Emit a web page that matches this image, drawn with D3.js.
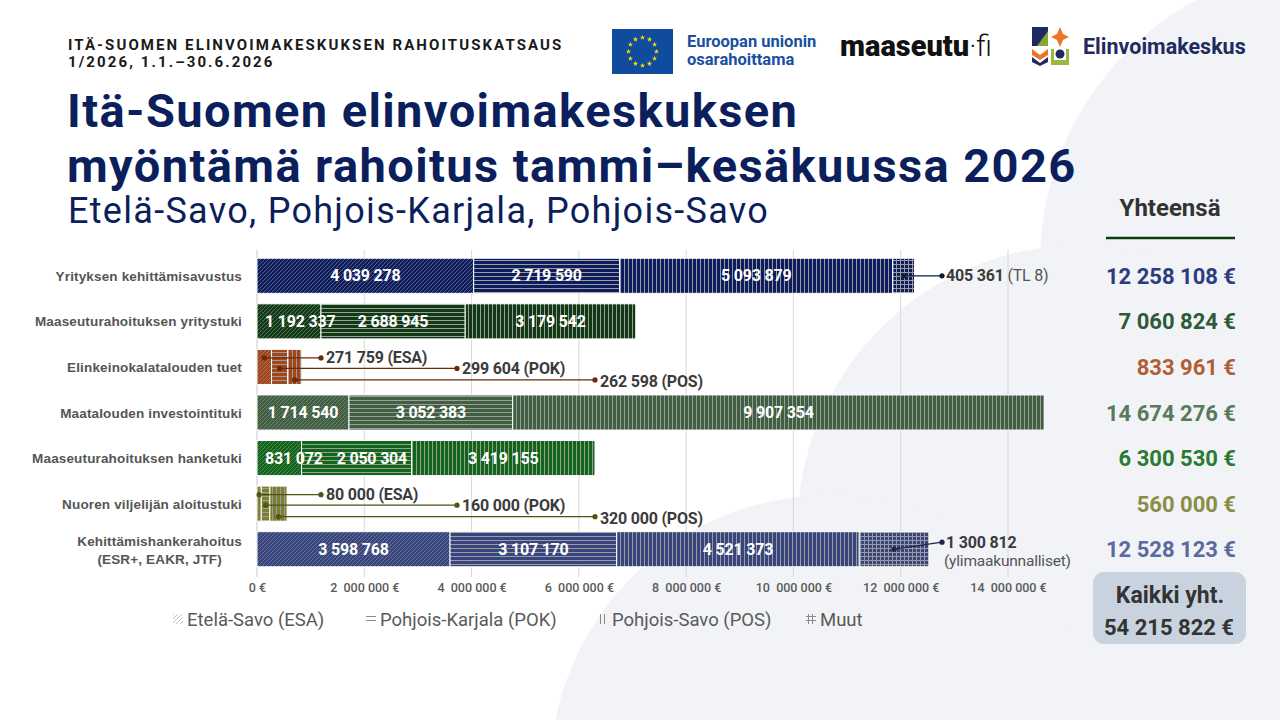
<!DOCTYPE html>
<html>
<head>
<meta charset="utf-8">
<script src="https://cdn.jsdelivr.net/npm/d3@7"></script>
<style>
  html, body { margin: 0; padding: 0; background: #fff; }
  svg { display: block; font-family: Roboto, 'Noto Sans', sans-serif; }
</style>
</head>
<body>
<svg id="chart" width="1280" height="720"></svg>
<script>
// data
const categories = [
  'Yrityksen kehittämisavustus',
  'Maaseuturahoituksen yritystuki',
  'Elinkeinokalatalouden tuet',
  'Maatalouden investointituki',
  'Maaseuturahoituksen hanketuki',
  'Nuoren viljelijän aloitustuki',
  'Kehittämishankerahoitus (ESR+, EAKR, JTF)'
];
const esaValues = [4039278, 1192337, 271759, 1714540, 831072, 80000, 3598768];
const pokValues = [2719590, 2688945, 299604, 3052383, 2050304, 160000, 3107170];
const posValues = [5093879, 3179542, 262598, 9907354, 3419155, 320000, 4521373];
const muutValues = [405361, 0, 0, 0, 0, 0, 1300812];
const muutNotes = ['(TL 8)', '', '', '', '', '', '(ylimaakunnalliset)'];
const totals = [12258108, 7060824, 833961, 14674276, 6300530, 560000, 12528123];
const grandTotal = 54215822;
const tickValues = [0, 2000000, 4000000, 6000000, 8000000, 10000000, 12000000, 14000000];
const seriesKeys = ['esa', 'pok', 'pos', 'muut'];
const seriesNames = ['Etelä-Savo (ESA)', 'Pohjois-Karjala (POK)', 'Pohjois-Savo (POS)', 'Muut'];
const seriesShort = ['ESA', 'POK', 'POS', 'Muut'];

// styles
const barColors = ['#0d1c5e', '#103a14', '#a4461a', '#3f5f41', '#0f6616', '#7c7f2f', '#36457f'];
const leaderColors = ['#0d1c3e', '#103a14', '#6e2a08', '#3f5f41', '#0f6616', '#4e5412', '#1d2548'];
const totalColors = ['#2c3c7c', '#2d5a37', '#b25d36', '#577a5d', '#2a7a31', '#8a8c47', '#5a6a9e'];
const navy = '#0b1f5c';

const fmt = d3.formatLocale({ decimal: ',', thousands: ' ', grouping: [3], currency: ['', ' €'] }).format(',d');

const svg = d3.select('#chart');
const defs = svg.append('defs');

// soft background blobs
const bg = svg.append('g').attr('fill', '#f1f3f7');
bg.append('circle').attr('cx', 1338).attr('cy', 262).attr('r', 298);
bg.append('circle').attr('cx', 1082).attr('cy', 530).attr('r', 285);
bg.append('circle').attr('cx', 830).attr('cy', 775).attr('r', 280);
bg.append('rect').attr('x', 1082).attr('y', 262).attr('width', 200).attr('height', 460);

// header
svg.append('text').attr('x', 68).attr('y', 50)
  .attr('font-size', 15).attr('font-weight', 700).attr('letter-spacing', 2.1).attr('fill', '#1a1a1a')
  .text('ITÄ-SUOMEN ELINVOIMAKESKUKSEN RAHOITUSKATSAUS');
svg.append('text').attr('x', 68).attr('y', 67)
  .attr('font-size', 15).attr('font-weight', 700).attr('letter-spacing', 2.1).attr('fill', '#1a1a1a')
  .text('1/2026, 1.1.–30.6.2026');

svg.append('text').attr('x', 67).attr('y', 127)
  .attr('font-size', 47).attr('font-weight', 700).attr('letter-spacing', 1.4).attr('fill', navy)
  .text('Itä-Suomen elinvoimakeskuksen');
svg.append('text').attr('x', 67).attr('y', 182)
  .attr('font-size', 47).attr('font-weight', 700).attr('letter-spacing', 1.4).attr('fill', navy)
  .text('myöntämä rahoitus tammi–kesäkuussa 2026');
svg.append('text').attr('x', 68).attr('y', 223)
  .attr('font-size', 36).attr('letter-spacing', 1.3).attr('fill', navy)
  .text('Etelä-Savo, Pohjois-Karjala, Pohjois-Savo');

// logos
const eu = svg.append('g');
eu.append('rect').attr('x', 612).attr('y', 29).attr('width', 61).attr('height', 45).attr('fill', '#0f4c9e');
d3.range(12).forEach(i => {
  const a = i * Math.PI / 6;
  eu.append('path')
    .attr('d', d3.symbol(d3.symbolStar, 9)())
    .attr('transform', `translate(${642.5 + 14 * Math.cos(a)},${51.5 + 14 * Math.sin(a)})`)
    .attr('fill', '#ffdd00');
});
eu.append('text').attr('x', 687).attr('y', 47).attr('font-size', 16.5).attr('font-weight', 700).attr('fill', '#1a4fa0').text('Euroopan unionin');
eu.append('text').attr('x', 687).attr('y', 65).attr('font-size', 16.5).attr('font-weight', 700).attr('fill', '#1a4fa0').text('osarahoittama');

const ms = svg.append('text').attr('x', 840).attr('y', 56).attr('font-size', 29).attr('fill', '#111');
ms.append('tspan').attr('font-weight', 900).text('maaseutu');
ms.append('tspan').attr('font-weight', 300).text('·fi');

const ev = svg.append('g');
ev.append('rect').attr('x', 1032).attr('y', 27).attr('width', 16).attr('height', 19).attr('fill', '#1d2a63');
ev.append('path').attr('d', 'M1037,46 L1048,31 L1048,46 Z').attr('fill', '#8aa632');
ev.append('path').attr('d', 'M1060,27 L1063,34 L1069,37 L1063,40 L1060,47 L1057,40 L1051,37 L1057,34 Z').attr('fill', '#f07427');
ev.append('path').attr('d', 'M1032,49 L1040,55 L1048,49 L1048,55 L1040,60 L1032,55 Z').attr('fill', '#f07427');
ev.append('path').attr('d', 'M1032,57 L1040,63 L1048,57 L1048,62 L1040,66 L1032,62 Z').attr('fill', '#1d2a63');
ev.append('rect').attr('x', 1051).attr('y', 49).attr('width', 18).attr('height', 16).attr('fill', '#9cb83d');
ev.append('rect').attr('x', 1054).attr('y', 49).attr('width', 12).attr('height', 11).attr('fill', '#fff');
ev.append('circle').attr('cx', 1060).attr('cy', 54).attr('r', 4.5).attr('fill', '#1d2a63');
ev.append('text').attr('x', 1083).attr('y', 54).attr('font-size', 21.5).attr('font-weight', 700).attr('fill', '#1f2b5e').text('Elinvoimakeskus');

// scales
const x = d3.scaleLinear().domain([0, 14000000]).range([257, 1008]);
const y = d3.scaleBand().domain(categories).range([253, 572]).paddingInner(0.23).paddingOuter(0.115);

// hatch patterns, one set per row colour
function addPatterns(id, color, line) {
  const s = 4;
  const mk = (key) => defs.append('pattern').attr('id', `${key}-${id}`)
    .attr('patternUnits', 'userSpaceOnUse').attr('width', s).attr('height', s);
  const pEsa = mk('esa');
  pEsa.append('rect').attr('width', s).attr('height', s).attr('fill', color);
  pEsa.append('path').attr('d', `M0,${s} L${s},0 M-1,1 L1,-1 M${s - 1},${s + 1} L${s + 1},${s - 1}`)
    .attr('stroke', line).attr('stroke-width', 0.7).attr('stroke-opacity', 0.75);
  const pPok = mk('pok');
  pPok.append('rect').attr('width', s).attr('height', s).attr('fill', color);
  pPok.append('line').attr('x1', 0).attr('x2', s).attr('y1', 0.5).attr('y2', 0.5).attr('stroke', line).attr('stroke-width', 1);
  const pPos = mk('pos');
  pPos.append('rect').attr('width', s).attr('height', s).attr('fill', color);
  pPos.append('line').attr('y1', 0).attr('y2', s).attr('x1', 0.5).attr('x2', 0.5).attr('stroke', line).attr('stroke-width', 1);
  const pMuut = mk('muut');
  pMuut.append('rect').attr('width', s).attr('height', s).attr('fill', color);
  pMuut.append('path').attr('d', `M0,0.5 L${s},0.5 M0.5,0 L0.5,${s}`).attr('stroke', line).attr('stroke-width', 1);
}
barColors.forEach((c, i) => addPatterns(i, c, '#9c9c9c'));
addPatterns('legend', 'none', '#8a8a8a');

// gridlines
const grid = svg.append('g');
grid.selectAll('line').data(tickValues.slice(1)).join('line')
  .attr('x1', d => x(d)).attr('x2', d => x(d))
  .attr('y1', 250).attr('y2', 577)
  .attr('stroke', '#d9d9d9').attr('stroke-width', 1);
svg.append('line').attr('x1', x(0)).attr('x2', x(0)).attr('y1', 250).attr('y2', 577)
  .attr('stroke', '#c8c8c8').attr('stroke-width', 1);

// x axis labels
const xAxis = svg.append('g').attr('transform', 'translate(0,583)')
  .call(d3.axisBottom(x).tickValues(tickValues).tickSize(0).tickFormat(d => fmt(d).replace(' ', '  ') + ' €'));
xAxis.select('.domain').remove();
xAxis.selectAll('text')
  .attr('font-family', 'Roboto, sans-serif').attr('font-size', 12.5).attr('font-weight', 500)
  .attr('fill', '#5a5a5a').style('white-space', 'pre').attr('dy', '0.5em');

// y axis labels
const yAxis = svg.append('g').attr('transform', 'translate(242,0)')
  .call(d3.axisLeft(y).tickSize(0).tickPadding(0).tickFormat(() => ''));
yAxis.select('.domain').remove();
yAxis.selectAll('.tick').each(function (d) {
  const t = d3.select(this).append('text')
    .attr('font-size', 13.5).attr('font-weight', 700).attr('fill', '#555').attr('letter-spacing', 0.15);
  const m = d.match(/^(.*) (\(.*\))$/);
  if (m) {
    const first = t.append('tspan').attr('y', -3).text(m[1]);
    const w = first.node().getComputedTextLength();
    t.attr('text-anchor', 'middle');
    first.attr('x', -w / 2);
    t.append('tspan').attr('x', -w / 2).attr('y', 15).text(m[2]);
  } else {
    t.attr('text-anchor', 'end').attr('y', 5).text(d);
  }
});

// stacked bars
const table = categories.map((c, i) => ({
  category: c, esa: esaValues[i], pok: pokValues[i], pos: posValues[i], muut: muutValues[i]
}));
const stacked = d3.stack().keys(seriesKeys)(table);

const rows = svg.append('g');
stacked.forEach((layer) => {
  rows.append('g').selectAll('rect')
    .data(layer.map((d, i) => ({ d, i, key: layer.key })).filter(o => o.d[1] > o.d[0]))
    .join('rect')
    .attr('x', o => x(o.d[0]))
    .attr('y', o => y(categories[o.i]))
    .attr('width', o => x(o.d[1]) - x(o.d[0]))
    .attr('height', y.bandwidth())
    .attr('fill', o => `url(#${o.key}-${o.i})`)
    .attr('stroke', '#fff').attr('stroke-width', 1);
});

// value labels inside the big bars, pushed right so they never collide
const labels = svg.append('g');
const lastRight = categories.map(() => -Infinity);
stacked.slice(0, 3).forEach((layer) => {
  layer.forEach((d, i) => {
    if (totals[i] < 1000000) return;
    const cy = y(categories[i]) + y.bandwidth() / 2;
    const t = labels.append('text')
      .attr('y', cy + 5.5).attr('text-anchor', 'middle')
      .attr('font-size', 16).attr('font-weight', 700).attr('fill', '#fff').attr('letter-spacing', -0.2)
      .text(fmt(d[1] - d[0]));
    const w = t.node().getComputedTextLength();
    const cx = Math.max((x(d[0]) + x(d[1])) / 2, x(d[0]) + 8 + w / 2, lastRight[i] + 14 + w / 2);
    lastRight[i] = cx + w / 2;
    t.attr('x', cx);
  });
});

// callouts for the small rows
const calloutEnds = [64, 200, 338];
const calloutDy = [-9, 1.5, 13];
const callouts = svg.append('g');
stacked.slice(0, 3).forEach((layer, k) => {
  layer.forEach((d, i) => {
    if (totals[i] >= 1000000) return;
    const cy = y(categories[i]) + y.bandwidth() / 2 + calloutDy[k];
    const x0 = (x(d[0]) + x(d[1])) / 2;
    const x1 = x(0) + calloutEnds[k];
    callouts.append('line').attr('x1', x0).attr('x2', x1).attr('y1', cy).attr('y2', cy)
      .attr('stroke', leaderColors[i]).attr('stroke-width', 1.2);
    callouts.selectAll(null).data([x0, x1]).join('circle')
      .attr('cx', v => v).attr('cy', cy).attr('r', 2.6).attr('fill', leaderColors[i]);
    callouts.append('text').attr('x', x1 + 5).attr('y', cy + 5.5 + (k === 2 ? 2 : 0))
      .attr('font-size', 16).attr('font-weight', 700).attr('fill', '#3b3b3b').attr('letter-spacing', -0.2)
      .text(`${fmt(d[1] - d[0])} (${seriesShort[k]})`);
  });
});

// callouts for "Muut"
stacked[3].forEach((d, i) => {
  if (d[1] <= d[0]) return;
  const cy = y(categories[i]) + y.bandwidth() / 2;
  const two = muutNotes[i].length > 8;
  const x0 = (x(d[0]) + x(d[1])) / 2;
  const x1 = 942;
  const y1 = two ? cy - 7 : cy;
  callouts.append('line').attr('x1', x0).attr('x2', x1).attr('y1', cy).attr('y2', y1)
    .attr('stroke', leaderColors[i]).attr('stroke-width', 1.2);
  callouts.append('circle').attr('cx', x0).attr('cy', cy).attr('r', 2.6).attr('fill', leaderColors[i]);
  callouts.append('circle').attr('cx', x1).attr('cy', y1).attr('r', 2.6).attr('fill', leaderColors[i]);
  const t = callouts.append('text').attr('x', x1 + 4).attr('y', y1 + 5.5)
    .attr('font-size', 16).attr('fill', '#3b3b3b').attr('letter-spacing', -0.2);
  t.append('tspan').attr('font-weight', 700).text(fmt(d[1] - d[0]));
  if (two) {
    t.append('tspan').attr('x', x1 + 2).attr('dy', 18).attr('font-weight', 400).attr('font-size', 15.5)
      .attr('fill', '#555').text(muutNotes[i]);
  } else {
    t.append('tspan').attr('font-weight', 400).attr('fill', '#555').text(' ' + muutNotes[i]);
  }
});

// legend
const legendX = [173, 366, 598, 806];
const legend = svg.append('g');
seriesKeys.forEach((k, i) => {
  legend.append('rect').attr('x', legendX[i]).attr('y', 614).attr('width', 10).attr('height', 10)
    .attr('fill', `url(#${k}-legend)`);
  legend.append('text').attr('x', legendX[i] + 14).attr('y', 626)
    .attr('font-size', 18.5).attr('font-weight', 400).attr('fill', '#5a5a5a')
    .text(seriesNames[i]);
});

// totals column
svg.append('text').attr('x', 1170).attr('y', 216).attr('text-anchor', 'middle')
  .attr('font-size', 24).attr('font-weight', 700).attr('fill', '#333').text('Yhteensä');
svg.append('line').attr('x1', 1106).attr('x2', 1235).attr('y1', 238).attr('y2', 238)
  .attr('stroke', '#0b3d0b').attr('stroke-width', 2.5);
svg.append('g').selectAll('text').data(totals).join('text')
  .attr('x', 1236).attr('y', (d, i) => y(categories[i]) + y.bandwidth() / 2 + 8)
  .attr('text-anchor', 'end').attr('font-size', 22).attr('font-weight', 700)
  .attr('fill', (d, i) => totalColors[i])
  .text(d => fmt(d) + ' €');

svg.append('rect').attr('x', 1093).attr('y', 572).attr('width', 153).attr('height', 72).attr('rx', 11)
  .attr('fill', '#c9d3df');
svg.append('text').attr('x', 1170).attr('y', 603).attr('text-anchor', 'middle')
  .attr('font-size', 23).attr('font-weight', 700).attr('fill', '#333').text('Kaikki yht.');
svg.append('text').attr('x', 1169).attr('y', 635).attr('text-anchor', 'middle')
  .attr('font-size', 22).attr('font-weight', 700).attr('fill', '#333').text(fmt(grandTotal) + ' €');
</script>
</body>
</html>
